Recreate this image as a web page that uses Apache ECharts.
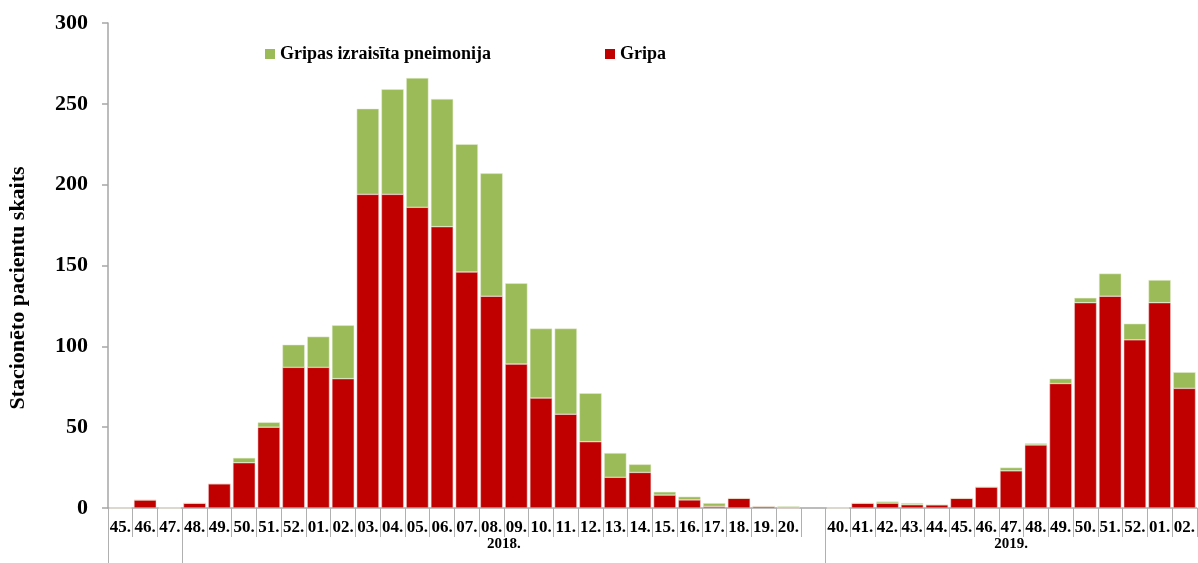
<!DOCTYPE html>
<html>
<head>
<meta charset="utf-8">
<script src="https://cdn.jsdelivr.net/npm/echarts@6/dist/echarts.min.js"></script>
<style>html,body{margin:0;padding:0;background:#fff}#c{width:1198px;height:563px}</style>
</head>
<body>
<div id="c"></div>
<script>
const weeks = ['45.','46.','47.','48.','49.','50.','51.','52.','01.','02.','03.','04.','05.','06.','07.','08.','09.','10.','11.','12.','13.','14.','15.','16.','17.','18.','19.','20.','',
  '40.','41.','42.','43.','44.','45.','46.','47.','48.','49.','50.','51.','52.','01.','02.'];
const gripa = [0,5,0,3,15,28,50,87,87,80,194,194,186,174,146,131,89,68,58,41,19,22,8,5,1,6,1,0,null,
  0,3,3,2,2,6,13,23,39,77,127,131,104,127,74];
const pneimonija = [0,0,0,0,0,3,3,14,19,33,53,65,80,79,79,76,50,43,53,30,15,5,2,2,2,0,0,1,null,
  0,0,1,1,0,0,0,2,1,3,3,14,10,14,10];
const groupNames = ['', '2018.', '2019.'];
const groupSizes = [3, 26, 15];
const yTicks = [0, 50, 100, 150, 200, 250, 300];
const seriesNames = ['Gripa', 'Gripas izraisīta pneimonija'];
const yTitle = 'Stacionēto pacientu skaits';

// group boundaries and centres (in category units)
const bounds = [0];
groupSizes.forEach(s => bounds.push(bounds[bounds.length - 1] + s));
const centers = [];
const centerLabel = {};
groupSizes.forEach((s, i) => {
  const c = bounds[i] + s / 2;
  if (groupNames[i]) { centers.push(c); centerLabel[c] = groupNames[i]; }
});

const font = '"Liberation Serif", "Times New Roman", serif';
const chart = echarts.init(document.getElementById('c'), null, {renderer: 'canvas'});
const legendText = {fontFamily: font, fontWeight: 'bold', fontSize: 18, color: '#000'};
chart.setOption({
  animation: false,
  textStyle: {fontFamily: font},
  grid: {left: 108, right: 1, top: 23, bottom: 55, containLabel: false},
  legend: [
    {data: [seriesNames[1]], left: 260, top: 40, icon: 'rect', itemWidth: 10, itemHeight: 10, itemGap: 5,
     itemStyle: {borderWidth: 0}, textStyle: legendText},
    {data: [seriesNames[0]], left: 600, top: 40, icon: 'rect', itemWidth: 10, itemHeight: 10, itemGap: 5,
     itemStyle: {borderWidth: 0}, textStyle: legendText}
  ],
  xAxis: [
    {
      type: 'category', data: weeks, position: 'bottom',
      axisLine: {lineStyle: {color: '#a6a6a6', width: 1.5}},
      axisTick: {show: true, interval: 0, length: 29, lineStyle: {color: '#b0b0b0', width: 1}},
      axisLabel: {interval: 0, margin: 11, fontFamily: font, fontWeight: 'bold', fontSize: 17, color: '#000'},
      splitLine: {show: false}
    },
    {
      type: 'value', min: 0, max: bounds[bounds.length - 1], position: 'bottom',
      axisLine: {show: false},
      axisTick: {show: true, customValues: bounds.slice(0, bounds.length - 1), length: 55, lineStyle: {color: '#b0b0b0', width: 1}},
      axisLabel: {show: true, customValues: centers, margin: 29, fontFamily: font, fontWeight: 'bold', fontSize: 15, color: '#000',
        formatter: v => centerLabel[v] || ''},
      splitLine: {show: false}
    }
  ],
  yAxis: {
    type: 'value', min: yTicks[0], max: yTicks[yTicks.length - 1], interval: 50,
    axisLine: {show: true, lineStyle: {color: '#a6a6a6', width: 1.5}},
    axisTick: {show: true, length: 6, lineStyle: {color: '#a6a6a6', width: 1.5}},
    axisLabel: {margin: 20, fontFamily: font, fontWeight: 'bold', fontSize: 22, color: '#000'},
    splitLine: {show: false}
  },
  graphic: [{
    type: 'text', x: 18, y: 288, rotation: Math.PI / 2,
    style: {text: yTitle, font: 'bold 22px ' + font, fill: '#000', textAlign: 'center', textVerticalAlign: 'middle'}
  }],
  series: [
    {name: seriesNames[0], type: 'bar', stack: 's', data: gripa, xAxisIndex: 0, barCategoryGap: '10%',
     itemStyle: {color: '#C00000', borderColor: '#f0d0d0', borderWidth: 0.5}},
    {name: seriesNames[1], type: 'bar', stack: 's', data: pneimonija, xAxisIndex: 0, barCategoryGap: '10%',
     itemStyle: {color: '#9BBB59', borderColor: '#e6eed6', borderWidth: 0.5}}
  ]
});
</script>
</body>
</html>
